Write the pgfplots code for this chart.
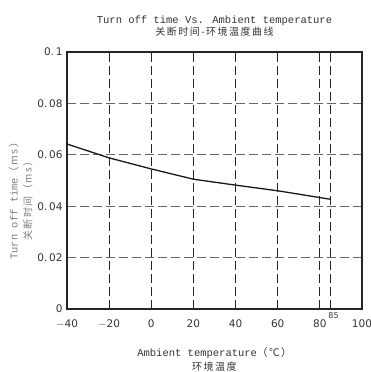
\documentclass[border=0pt]{standalone}
\usepackage{pgfplots}
\pgfplotsset{compat=1.18}
\usepackage{fontspec}
\setmainfont{DejaVu Sans}
\newfontfamily\monof{Liberation Mono}
\newfontfamily\cjk[LetterSpace=15]{Noto Sans CJK SC}
\definecolor{txt}{HTML}{333333}
\definecolor{lbl}{HTML}{808080}
\begin{document}
\begin{tikzpicture}[x=1pt,y=1pt]
\begin{axis}[
  scale only axis,
  width=295pt, height=257pt,
  xmin=-40, xmax=100, ymin=0, ymax=0.1,
  xtick={-40,-20,0,20,40,60,80,100},
  xticklabels={$-$40,$-$20,0,20,40,60,80,100},
  extra x ticks={85}, extra x tick labels={},
  extra x tick style={grid=major, major grid style={black!85, dash pattern=on 9pt off 4pt, line width=0.8pt}},
  ytick={0,0.02,0.04,0.06,0.08,0.1},
  yticklabels={0,0.\,02,0.\,04,0.\,06,0.\,08,0.\,1},
  /pgf/number format/assume math mode=true,
  tick label style={font=\fontsize{10.5}{12}\selectfont, text=txt},
  major tick length=0pt,
  xmajorgrids, ymajorgrids,
  x grid style={black!85, dash pattern=on 9pt off 4pt, line width=0.8pt},
  y grid style={black!60, dash pattern=on 9pt off 4pt, line width=0.8pt},
  axis line style={black!85, line width=1.6pt},
  xticklabel style={yshift=-7pt},
  yticklabel style={xshift=-1pt},
  title style={align=center, font=\fontsize{10.5}{12}\selectfont, text=txt, yshift=6pt},
  title={{\monof Turn off time Vs. Ambient temperature}\\{\cjk\fontsize{10}{11}\selectfont 关断时间-环境温度曲线}},
  xlabel style={align=center, font=\fontsize{10.5}{14}\selectfont, text=txt, yshift=-12pt},
  xlabel={{\monof Ambient temperature}{\cjk （℃）}\\{\cjk\fontsize{10}{14}\selectfont 环境温度}},
  ylabel style={align=center, font=\fontsize{10.5}{14}\selectfont, text=lbl, yshift=-2pt, xshift=-18pt},
  ylabel={{\monof Turn off time}{\cjk （ms）}\\{\cjk\fontsize{10}{14}\selectfont 关断时间（ms）}},
  clip=false,
]
\addplot[black!90, line width=1.3pt] coordinates {
(-40,0.0642) (-20,0.0588) (0,0.0545) (20,0.0505) (40,0.0482) (60,0.0460) (85,0.0427)
};
\node[anchor=south, font=\fontsize{8}{9}\selectfont, text=txt] at (axis cs:86.5,0) [yshift=-13pt] {85};
\end{axis}
\pgfresetboundingbox
\path ([shift={(-67pt,-63pt)}]current axis.south west) rectangle ([shift={(9pt,52pt)}]current axis.north east);
\end{tikzpicture}
\end{document}
